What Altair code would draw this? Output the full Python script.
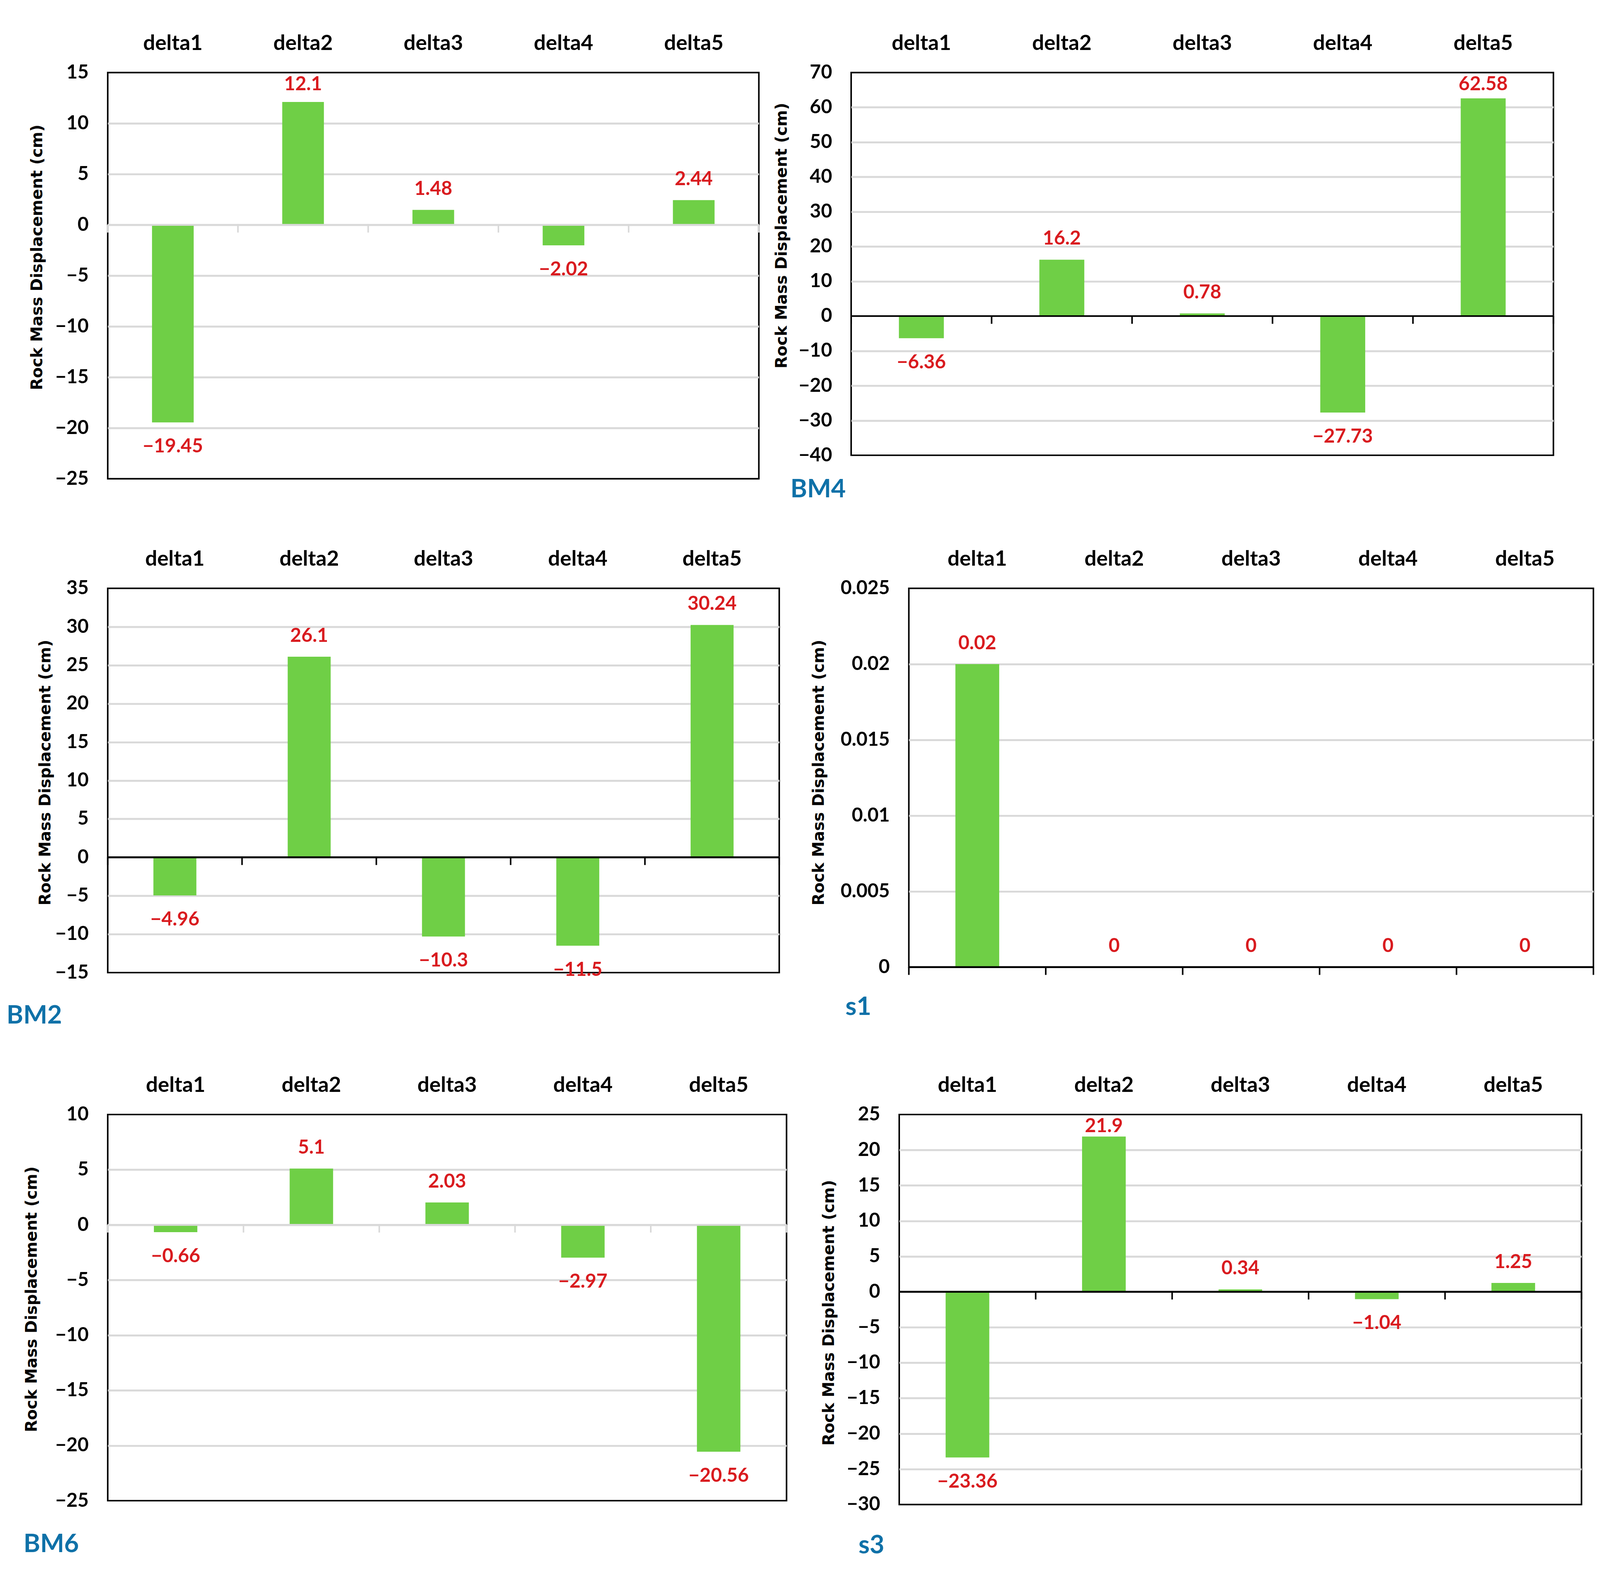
import altair as alt
import pandas as pd

CATEGORIES = ["delta1", "delta2", "delta3", "delta4", "delta5"]

# panel values (cm)
TL_VALUES = [-19.45, 12.1, 1.48, -2.02, 2.44]
BM4_VALUES = [-6.36, 16.2, 0.78, -27.73, 62.58]
BM2_VALUES = [-4.96, 26.1, -10.3, -11.5, 30.24]
S1_VALUES = [0.02, 0, 0, 0, 0]
BM6_VALUES = [-0.66, 5.1, 2.03, -2.97, -20.56]
S3_VALUES = [-23.36, 21.9, 0.34, -1.04, 1.25]

# y tick labels of each panel
TL_TICKS = [-25, -20, -15, -10, -5, 0, 5, 10, 15]
BM4_TICKS = [-40, -30, -20, -10, 0, 10, 20, 30, 40, 50, 60, 70]
BM2_TICKS = [-15, -10, -5, 0, 5, 10, 15, 20, 25, 30, 35]
S1_TICKS = [0, 0.005, 0.01, 0.015, 0.02, 0.025]
BM6_TICKS = [-25, -20, -15, -10, -5, 0, 5, 10]
S3_TICKS = [-30, -25, -20, -15, -10, -5, 0, 5, 10, 15, 20, 25]

GREEN = "#6FCF46"
RED = "#D91B1F"
BLUE = "#0F71A8"
GRID = "#D9D9D9"
Y_TITLE = "Rock Mass Displacement (cm)"


def panel(values, ticks, name, w, h, zero_color, title_x, title_dy,
          name_dx=0, name_offset=0):
    df = pd.DataFrame({"cat": CATEGORIES, "v": values})
    lo, hi = ticks[0], ticks[-1]

    x_axis = alt.Axis(
        orient="top", labelAngle=0, domain=False, ticks=False, tickSize=0,
        grid=False, title=None, labelFont="Lato", labelFontWeight="bold",
        labelFontSize=55, labelColor="black", labelPadding=59,
        labelBaseline="alphabetic",
    )
    x_scale = alt.Scale(paddingInner=0, paddingOuter=0)
    x = alt.X("cat:N", sort=CATEGORIES, scale=x_scale, axis=x_axis)
    y_scale = alt.Scale(domain=[lo, hi], nice=False, zero=False)
    y_axis = alt.Axis(
        values=ticks, format="~g", grid=True, gridColor=GRID, gridWidth=5,
        gridOpacity={"condition": {"test": f"datum.value == {lo} || datum.value == {hi}",
                                   "value": 0}, "value": 1},
        domain=False, ticks=False, labelFont="Lato", labelFontWeight="bold",
        labelFontSize=50, labelColor="black", labelPadding=50,
        title=Y_TITLE, titleFont="DejaVu Sans", titleFontWeight="bold",
        titleFontSize=41, titleColor="black", titleX=title_x,
        titleY=h / 2 + title_dy, titleBaseline="middle",
    )
    y = alt.Y("v:Q", scale=y_scale, axis=y_axis)

    base = alt.Chart(df)
    bars = base.mark_bar(color=GREEN, width=alt.RelativeBandSize(0.32)).encode(
        x=x, y=y, y2=alt.datum(0)
    )
    zero = base.mark_rule(color=zero_color, strokeWidth=4).encode(y=alt.datum(0))
    tick_rules = base.mark_rule(color=zero_color, strokeWidth=4, y2Offset=20).encode(
        x=alt.X("cat:N", sort=CATEGORIES, scale=x_scale, axis=x_axis, bandPosition=0),
        y=alt.datum(0), y2=alt.datum(0),
    )
    end_tick = base.transform_filter(
        alt.datum.cat == CATEGORIES[-1]
    ).mark_rule(color=zero_color, strokeWidth=4, y2Offset=20).encode(
        x=alt.X("cat:N", sort=CATEGORIES, scale=x_scale, axis=x_axis, bandPosition=1),
        y=alt.datum(0), y2=alt.datum(0),
    )
    text_style = dict(color=RED, font="Lato", fontWeight="bold", fontSize=50,
                      baseline="alphabetic")
    # positive labels sit above the bar but are kept inside the plot area
    cap = hi - 85 * (hi - lo) / h
    pos = base.transform_filter("datum.v >= 0").transform_calculate(
        ly=f"min(datum.v, {cap})"
    ).mark_text(dy=-39, **text_style).encode(
        x=x, y=alt.Y("ly:Q", scale=y_scale, axis=y_axis),
        text=alt.Text("v:Q", format="~f"),
    )
    neg = base.transform_filter("datum.v < 0").mark_text(dy=78, **text_style).encode(
        x=x, y=y, text=alt.Text("v:Q", format="~f")
    )

    chart = alt.layer(bars, zero, tick_rules, end_tick, pos, neg).properties(
        width=w, height=h
    )
    if name:
        chart = chart.properties(
            title=alt.TitleParams(
                name, orient="bottom", anchor="start", frame="group",
                font="Lato", fontWeight="bold", fontSize=66, color=BLUE,
                baseline="alphabetic", dx=name_dx, offset=name_offset,
            )
        )
    return chart


tl = panel(TL_VALUES, TL_TICKS, "", 1693, 1056, GRID, -183, -48)
bm4 = panel(BM4_VALUES, BM4_TICKS, "BM4", 1826, 995, "black", -180, -74, -158, 84)
bm2 = panel(BM2_VALUES, BM2_TICKS, "BM2", 1746, 999, "black", -162, -21, -263, 107)
s1 = panel(S1_VALUES, S1_TICKS, "s1", 1780, 985, "black", -234, -14, -165, 99)
bm6 = panel(BM6_VALUES, BM6_TICKS, "BM6", 1765, 1004, GRID, -197, -22, -219, 109)
s3 = panel(S3_VALUES, S3_TICKS, "s3", 1774, 1014, "black", -182, 8, -106, 102)

row1 = alt.hconcat(tl, bm4, spacing=32)
row2 = alt.hconcat(bm2, s1, spacing=75)
row3 = alt.hconcat(bm6, s3, spacing=83)

chart = alt.vconcat(row1, row2, row3, spacing=117).properties(
    padding={"left": 7, "top": 44, "right": 5, "bottom": 5},
    background="white",
).configure_view(stroke="black", strokeWidth=4)

chart.save("out.html", embed_options={"renderer": "svg", "actions": False})
